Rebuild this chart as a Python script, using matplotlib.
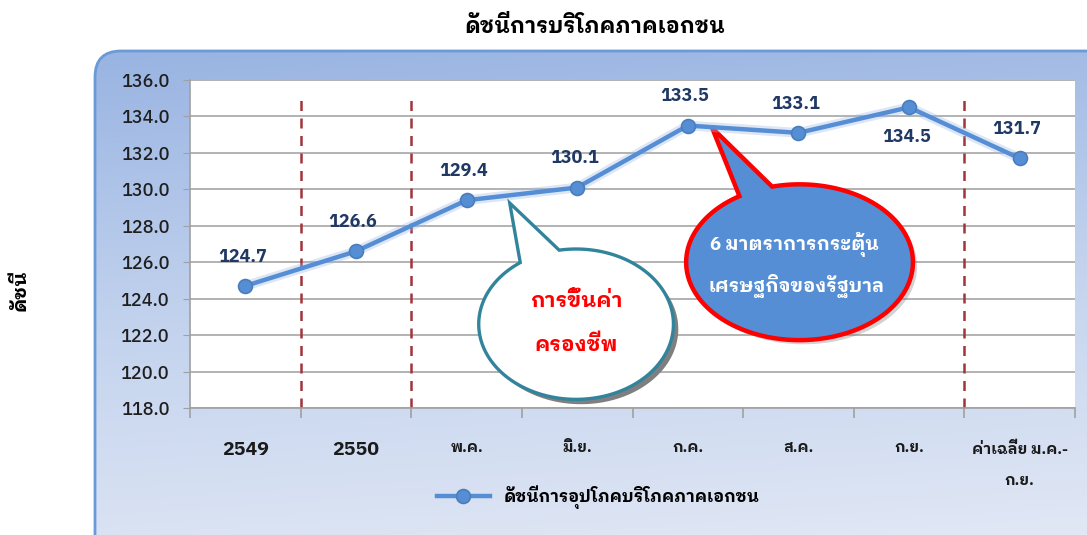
import numpy as np
import matplotlib
matplotlib.use("Agg")
import matplotlib.pyplot as plt
import matplotlib.patheffects as pe
from matplotlib.patches import FancyBboxPatch, Polygon
from matplotlib.colors import LinearSegmentedColormap

plt.rcParams["font.family"] = ["IBM Plex Sans Thai Looped", "DejaVu Sans"]

# ข้อมูล
categories = ["2549", "2550", "พ.ค.", "มิ.ย.", "ก.ค.", "ส.ค.", "ก.ย.", "ค่าเฉลี่ย ม.ค.-\nก.ย."]
values = [124.7, 126.6, 129.4, 130.1, 133.5, 133.1, 134.5, 131.7]
label_side = [1, 1, 1, 1, 1, 1, -1, 1]      # 1 = above point, -1 = below
separators = [0.5, 1.5, 6.5]
y_ticks = [118, 120, 122, 124, 126, 128, 130, 132, 134, 136]

title = "ดัชนีการบริโภคภาคเอกชน"
y_label = "ดัชนี"
series_name = "ดัชนีการอุปโภคบริโภคภาคเอกชน"
note_1 = ["การขึ้นค่า", "ครองชีพ"]
note_2 = ["6 มาตราการกระตุ้น", "เศรษฐกิจของรัฐบาล"]

W, H = 1087, 535
LINE = "#558ED5"
DASH = "#A0353A"

fig = plt.figure(figsize=(W / 100, H / 100), dpi=100)

# กรอบพื้นหลังไล่สี
bg = fig.add_axes([0, 0, 1, 1])
bg.set_xlim(0, W)
bg.set_ylim(H, 0)
bg.axis("off")
cmap = LinearSegmentedColormap.from_list("frame", ["#99B4E2", "#C3D3EE", "#E2E8F5"])
gy, gx = np.mgrid[0:1:200j, 0:1:200j]
grad = np.clip(gy * 0.9 + gx * 0.12, 0, 1)
img = bg.imshow(grad, cmap=cmap, extent=[93, W + 20, H + 20, 50], aspect="auto", zorder=1)
frame = FancyBboxPatch((95, 51), W + 40, H, boxstyle="round,pad=0,rounding_size=26",
                       transform=bg.transData, facecolor="none", edgecolor="#6A9AD8", lw=2, zorder=2)
bg.add_patch(frame)
img.set_clip_path(frame)

# พื้นที่กราฟ
ax = fig.add_axes([190 / W, 1 - 408 / H, 885 / W, 328 / H])
ax.set_facecolor("white")
x = np.arange(len(categories))
ax.set_xlim(-0.5, len(categories) - 0.5)
ax.set_ylim(y_ticks[0], y_ticks[-1])
ax.set_yticks(y_ticks)
ax.set_yticklabels([f"{v:.1f}" for v in y_ticks])
ax.grid(axis="y", color="#A6A6A6", linewidth=1.2)
ax.set_axisbelow(True)
for s in ["top", "right"]:
    ax.spines[s].set_visible(False)
for s in ["left", "bottom"]:
    ax.spines[s].set_color("#A0A0A0")
    ax.spines[s].set_linewidth(1.2)
ax.tick_params(axis="y", colors="#A0A0A0", labelcolor="#1F1F1F", labelsize=13, length=5, pad=10)
for t in ax.get_yticklabels():
    t.set_fontweight("medium")

ax.set_xticks(np.arange(len(categories) + 1) - 0.5)
ax.set_xticklabels([])
ax.tick_params(axis="x", which="major", colors="#A0A0A0", length=7, width=1.2)
ax.set_xticks(x, minor=True)
ax.set_xticklabels(categories, minor=True)
ax.tick_params(axis="x", which="minor", length=0, pad=24, labelcolor="#1a1a1a")
for i, t in enumerate(ax.get_xticklabels(minor=True)):
    t.set_fontweight("bold")
    t.set_fontsize(14 if i < 2 else 11)
    t.set_linespacing(2.6)

for s in separators:
    ax.axvline(s, ymin=0, ymax=0.96, color=DASH, linestyle=(0, (4, 3)), linewidth=1.8, zorder=2)


def callout(cx, cy, w, h, a1, a2, tip, n=240):
    t = np.radians(np.linspace(a1, a2 + 360, n))
    pts = np.column_stack([cx + w / 2 * np.cos(t), cy + h / 2 * np.sin(t)])
    return np.vstack([pts, [tip]])


# บอลลูนคำอธิบาย 1
p1 = Polygon(callout(2.99, 122.6, 1.76, 8.25, 125, 100, (2.39, 129.25)),
             closed=True, facecolor="white", edgecolor="#31849B", lw=2.4, zorder=3)
p1.set_path_effects([pe.SimplePatchShadow(offset=(3.5, -3.5), shadow_rgbFace="#7F7F7F", alpha=1.0), pe.Normal()])
ax.add_patch(p1)
ax.text(2.99, 123.85, note_1[0], ha="center", va="center", color="#FF0000", fontsize=15, fontweight="bold", zorder=4)
ax.text(2.99, 121.45, note_1[1], ha="center", va="center", color="#FF0000", fontsize=15, fontweight="bold", zorder=4)

# บอลลูนคำอธิบาย 2
p2 = Polygon(callout(5.01, 126.0, 2.05, 8.55, 122, 104, (4.22, 133.37)),
             closed=True, facecolor="#558ED5", edgecolor="#FF0000", lw=3.2, zorder=3)
p2.set_path_effects([pe.SimplePatchShadow(offset=(3, -3), shadow_rgbFace="#7F7F7F", alpha=0.35), pe.Normal()])
ax.add_patch(p2)
ax.text(4.96, 126.95, note_2[0], ha="center", va="center", color="white", fontsize=13.5, fontweight="bold", zorder=4)
ax.text(4.98, 124.7, note_2[1], ha="center", va="center", color="white", fontsize=13.5, fontweight="bold", zorder=4)

# เส้นข้อมูล
ax.plot(x, values, color="#9DB8E3", linewidth=7, alpha=0.35, zorder=4, solid_capstyle="round")
ax.plot(x, values, color=LINE, linewidth=3.2, marker="o", markersize=10,
        markerfacecolor=LINE, markeredgecolor="#4A7EBB", markeredgewidth=1.2,
        label=series_name, zorder=5)
for xi, v, side in zip(x, values, label_side):
    ax.annotate(f"{v:.1f}", (xi, v), xytext=(-2, 21 * side), textcoords="offset points",
                ha="center", va="center", fontsize=13, fontweight="bold", color="#1F3864", zorder=6)

fig.legend(loc="center", bbox_to_anchor=(598 / W, 1 - 497 / H), frameon=False,
           handlelength=3.2, prop={"weight": "bold", "size": 12})

fig.text(595 / W, 1 - 26 / H, title, ha="center", va="center", fontsize=15.5, fontweight="bold")
fig.text(20 / W, 1 - 290 / H, y_label, ha="center", va="center", rotation=90, fontsize=14, fontweight="bold")

fig.savefig("out.png", dpi=100)
